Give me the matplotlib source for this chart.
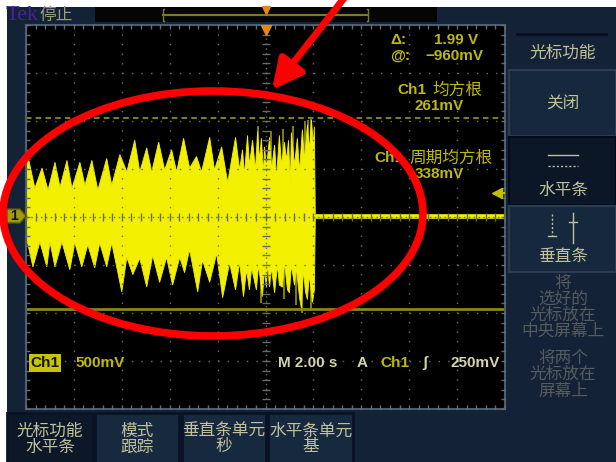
import numpy as np
import matplotlib.pyplot as plt
from matplotlib.patches import Rectangle, Ellipse, Polygon

plt.rcParams['font.family'] = ['Liberation Sans', 'Noto Sans CJK SC', 'DejaVu Sans']
plt.rcParams['lines.scale_dashes'] = False

# scope settings
sec_per_div = 2.0
volts_per_div = 0.5
cursor_delta = 1.99
cursor_at = -0.96
trig_level = 0.25

# burst envelope (seconds, volts)
upper_t = [-9.96, -9.88, -9.63, -9.33, -9.08, -8.79, -8.58, -8.29, -8.08, -7.75,
           -7.54, -7.25, -7.00, -6.63, -6.42, -6.08, -5.79, -5.46, -5.25, -4.96,
           -4.75, -4.46, -4.21, -3.92, -3.71, -3.42, -3.17, -2.88, -2.67, -2.33,
           -2.13, -1.83, -1.58, -1.25, -1.08, -0.96, -0.88, -0.75, -0.67, -0.54,
           -0.42, -0.33, -0.25, -0.17, -0.08, -0.04, 0.04, 0.17, 0.25, 0.38,
           0.46, 0.58, 0.67, 0.79, 0.88, 0.96, 1.04, 1.08, 1.21, 1.33,
           1.42, 1.54, 1.63, 1.75, 1.83, 1.92, 2.00, 2.04, 2.08]
upper_v = [0.59, 0.59, 0.30, 0.51, 0.28, 0.57, 0.31, 0.59, 0.30, 0.57,
           0.33, 0.59, 0.28, 0.61, 0.33, 0.65, 0.47, 0.80, 0.47, 0.72,
           0.47, 0.78, 0.49, 0.70, 0.47, 0.82, 0.51, 0.63, 0.47, 0.83,
           0.49, 0.73, 0.36, 0.83, 0.49, 0.70, 0.44, 0.85, 0.54, 0.80,
           0.49, 0.89, 0.59, 0.82, 0.44, 0.73, 0.51, 0.83, 0.49, 0.75,
           0.41, 0.85, 0.54, 0.78, 0.59, 0.80, 0.35, 0.88, 0.54, 0.82,
           0.47, 0.91, 0.59, 0.96, 0.70, 1.01, 0.75, 0.94, 0.0]
lower_t = [-9.96, -9.71, -9.42, -9.13, -9.00, -8.79, -8.50, -8.17, -7.96, -7.67,
           -7.42, -7.13, -6.92, -6.63, -6.42, -6.00, -5.79, -5.54, -5.25, -4.96,
           -4.71, -4.42, -4.13, -3.88, -3.58, -3.38, -3.17, -2.83, -2.63, -2.33,
           -2.04, -1.79, -1.50, -1.25, -1.08, -0.92, -0.79, -0.67, -0.58, -0.38,
           -0.29, -0.13, -0.04, 0.04, 0.08, 0.17, 0.25, 0.38, 0.50, 0.58,
           0.71, 0.79, 0.92, 1.00, 1.08, 1.21, 1.29, 1.42, 1.50, 1.58,
           1.67, 1.75, 1.83, 1.96, 2.04, 2.08]
lower_v = [-0.24, -0.52, -0.26, -0.52, -0.26, -0.52, -0.26, -0.55, -0.27, -0.52,
           -0.29, -0.53, -0.27, -0.52, -0.27, -0.78, -0.42, -0.60, -0.43, -0.73,
           -0.40, -0.68, -0.42, -0.71, -0.42, -0.58, -0.34, -0.78, -0.45, -0.68,
           -0.38, -0.84, -0.48, -0.76, -0.47, -0.83, -0.55, -0.76, -0.53, -0.76,
           -0.50, -0.83, -0.55, -0.74, -0.47, -0.73, -0.53, -0.79, -0.50, -0.71,
           -0.73, -0.47, -0.76, -0.79, -0.50, -0.71, -0.53, -0.84, -0.95, -0.55,
           -0.78, -0.86, -0.60, -0.89, -0.76, 0.0]

# sparse dim spikes at the end of the burst
spike_up_t = [-0.33, 0.25, 0.71, 1.13, 1.63, 1.79, 1.92]
spike_up_v = [0.95, 0.90, 0.92, 0.95, 1.00, 1.01, 1.02]
spike_dn_t = [-0.17, 0.79, 1.29, 1.54, 1.88]
spike_dn_v = [-0.90, -0.85, -0.92, -1.00, -0.97]

# quiet trace after the burst
tail_t = [2.08, 10.0]
tail_v = [0.01, 0.01]

side_menu = ['关闭', '水平条', '垂直条']
side_hint = ['将', '选好的', '光标放在', '中央屏幕上', '将两个', '光标放在', '屏幕上']
bottom_menu = [('光标功能', '水平条'), ('模式', '跟踪'), ('垂直条单元', '秒'), ('水平条单元', '基')]

W, H = 616, 462
navy = '#132236'
btn = '#17293e'
khaki = '#c2c19d'
txt_yel = '#bdb90c'
trace = '#f2f000'
grid_c = '#6a6a6a'

fig = plt.figure(figsize=(W / 100, H / 100), dpi=100, facecolor='white')

# ---- instrument frame ----
bg = fig.add_axes([0, 0, 1, 1])
bg.set_xlim(0, W)
bg.set_ylim(H, 0)
bg.axis('off')
bg.add_patch(Rectangle((7, 7), W - 7, H - 7, fc=navy, ec='none'))
bg.add_patch(Rectangle((95, 7), 342, 15, fc='#050505', ec='none'))
bg.plot([163, 368], [15, 15], color='#7c7a30', lw=1.5)
bg.plot([164, 163, 163, 164], [9, 9, 21, 21], color='#7c7a30', lw=1)
bg.plot([367, 368, 368, 367], [9, 9, 21, 21], color='#7c7a30', lw=1)
bg.plot(266, 10, marker='v', ms=6, color='#e8861c')
bg.text(6, 15.5, 'Tek', family='Liberation Serif', fontsize=16, color='#4b1f9a', va='center')
bg.text(39, 15, '停止', fontsize=12, color='#9c9c7c', va='center')

# right-hand menu
bg.plot([517, 606], [34, 34], color='#080e20', lw=2)
bg.text(563, 53, '光标功能', fontsize=12, color=khaki, ha='center', va='center')
boxes = [(70, 66, '#16283d', '#2c3d52'), (137, 68, '#0b1627', '#050b1c'), (206, 66, '#16283d', '#2c3d52')]
for (y0, h, fc, ec), label in zip(boxes, side_menu):
    bg.add_patch(Rectangle((509, y0), 107, h, fc=fc, ec=ec, lw=1.5))
bg.text(563, 104, side_menu[0], fontsize=12, color=khaki, ha='center', va='center')
bg.plot([548, 578], [155, 155], color=khaki, lw=1)
bg.plot([548, 578], [166, 166], color=khaki, lw=1, ls=(0, (1.5, 1.5)))
bg.text(563, 190, side_menu[1], fontsize=12, color=khaki, ha='center', va='center')
bg.plot([552, 552], [214, 236], color=khaki, lw=1, ls=(0, (1.5, 1.5)))
bg.plot([548, 556], [236, 236], color=khaki, lw=1)
bg.plot([573, 573], [213, 243], color=khaki, lw=1)
bg.plot([569, 577], [222, 222], color=khaki, lw=1)
bg.text(563, 256, side_menu[2], fontsize=12, color=khaki, ha='center', va='center')
for y, s in zip([283, 299, 315, 331, 358, 374, 391], side_hint):
    bg.text(563, y, s, fontsize=12, color='#555b5e', ha='center', va='center')

# bottom soft keys
for i, ((x0, x1), (l1, l2)) in enumerate(zip([(7, 93), (95, 179), (182, 266), (268, 353)], bottom_menu)):
    bg.add_patch(Rectangle((x0, 413), x1 - x0, 52, fc='#0c1828' if i == 0 else btn,
                           ec='#0a1226', lw=2))
    xc = (x0 + x1) / 2
    bg.text(xc, 431, l1, fontsize=12, color=khaki, ha='center', va='center')
    bg.text(xc, 447, l2, fontsize=12, color=khaki, ha='center', va='center')

# ---- graticule ----
sc = fig.add_axes([26 / W, 1 - 409 / H, 479 / W, 384 / H], facecolor='black')
sc.set_xlim(-5 * sec_per_div, 5 * sec_per_div)
sc.set_ylim(-4 * volts_per_div, 4 * volts_per_div)
sc.set_xticks([])
sc.set_yticks([])
for s in sc.spines.values():
    s.set_color('#4e5e72')
    s.set_linewidth(1.5)

for k in range(-4, 5):
    if k:
        sc.axvline(k * sec_per_div, color=grid_c, lw=1, ls=(0, (1, 5.9)), zorder=3)
for k in range(-3, 4):
    if k:
        sc.axhline(k * volts_per_div, color=grid_c, lw=1, ls=(0, (1, 5.9)), zorder=3)
sc.axvline(0, color=grid_c, lw=1, ls=(0, (1, 2.5)), zorder=3)
sc.axhline(0, color=grid_c, lw=1, ls=(0, (1, 2.5)), zorder=3)

tick_v = np.arange(-20, 21) * volts_per_div / 5
tick_t = np.arange(-25, 26) * sec_per_div / 5
sc.plot(np.zeros_like(tick_v), tick_v, ls='none', marker='_', ms=6, mew=1, color=grid_c, zorder=3)
sc.plot(tick_t, np.zeros_like(tick_t), ls='none', marker='|', ms=6, mew=1, color=grid_c, zorder=3)
for edge in (-4, 4):
    sc.plot(tick_t, np.full_like(tick_t, edge * volts_per_div), ls='none', marker='|', ms=6,
            mew=1, color=grid_c, zorder=3)
for edge in (-5, 5):
    sc.plot(np.full_like(tick_v, edge * sec_per_div), tick_v, ls='none', marker='_', ms=6,
            mew=1, color=grid_c, zorder=3)

# trace
sc.vlines(spike_up_t, 0, spike_up_v, color='#8e8c00', lw=1.3, zorder=1.5)
sc.vlines(spike_dn_t, 0, spike_dn_v, color='#8e8c00', lw=1.3, zorder=1.5)
sc.fill(upper_t + lower_t[::-1], upper_v + lower_v[::-1], fc=trace, ec=trace, lw=0.6, zorder=2)
sc.plot(tail_t, tail_v, color='#d8d600', lw=3.5, zorder=2)
sc.plot(tail_t, tail_v, color=trace, lw=1.5, zorder=2)

# cursors and markers
sc.axhline(cursor_at + cursor_delta, color='#7e7c22', lw=1.5, ls=(0, (4, 3)), zorder=2.5)
sc.axhline(cursor_at, color='#8a8814', lw=2, zorder=2.5)
sc.plot(0, 3.92 * volts_per_div, marker='v', ms=8, color='#e8861c', zorder=5)
sc.plot([9.65, 10], [trig_level, trig_level], color='#c4c000', lw=1.5, zorder=5)
sc.plot(9.65, trig_level, marker='<', ms=7, color='#c4c000', zorder=5)

# ---- readouts and notes ----
ov = fig.add_axes([0, 0, 1, 1], facecolor='none')
ov.set_xlim(0, W)
ov.set_ylim(H, 0)
ov.axis('off')

bold = dict(fontsize=11, fontweight='bold', va='center')
ov.text(390, 40, 'Δ:', color=txt_yel, **bold)
ov.text(478, 40, f'{cursor_delta:.2f} V', color=txt_yel, ha='right', **bold)
ov.text(390, 56, '@:', color=txt_yel, **bold)
ov.text(483, 56, f'−{abs(cursor_at) * 1000:.0f}mV', color=txt_yel, ha='right', **bold)
ov.text(397, 90, 'Ch1', color=txt_yel, **bold)
ov.text(482, 90, '均方根', color=txt_yel, fontsize=12, ha='right', va='center')
ov.text(439, 106, '261mV', color=txt_yel, ha='center', **bold)
ov.text(374, 158, 'Ch1', color=txt_yel, **bold)
ov.text(493, 158, '周期均方根', color=txt_yel, fontsize=12, ha='right', va='center')
ov.text(439, 174, '338mV', color=txt_yel, ha='center', **bold)

ov.text(45, 363, 'Ch1', color='#141400', ha='center',
        bbox=dict(boxstyle='square,pad=0.1', fc='#c8c400', ec='none'), **bold)
ov.text(75, 363, f'{volts_per_div * 1000:.0f}mV', color=txt_yel, **bold)
ov.text(278, 363, f'M {sec_per_div:.2f} s', color='#d4d3ad', **bold)
ov.text(362, 363, 'A', color='#d4d3ad', ha='center', **bold)
ov.text(380, 363, 'Ch1', color=txt_yel, **bold)
ov.text(425, 363, 'ʃ', color='#d4d3ad', ha='center', **bold)
ov.text(500, 363, f'{trig_level * 1000:.0f}mV', color='#d4d3ad', ha='right', **bold)

# channel 1 ground marker
ov.add_patch(Polygon([(7, 209), (20, 209), (26, 216), (20, 223), (7, 223)],
                     fc='#9e9a12', ec='#5a5800', lw=1))
ov.text(14, 216, '1', color='#111100', fontsize=10, fontweight='bold', ha='center', va='center')

# red highlight
ov.add_patch(Ellipse((213, 213.5), 420, 245, fill=False, ec='#ff0000', lw=5.5, zorder=10))
ov.annotate('', xy=(272, 90), xytext=(352, -12), annotation_clip=False,
            arrowprops=dict(arrowstyle='-|>,head_length=0.9,head_width=0.45', mutation_scale=20,
                            color='#ff0000', lw=5, shrinkA=0, shrinkB=0))

fig.savefig('out.png', dpi=100, facecolor='white')
